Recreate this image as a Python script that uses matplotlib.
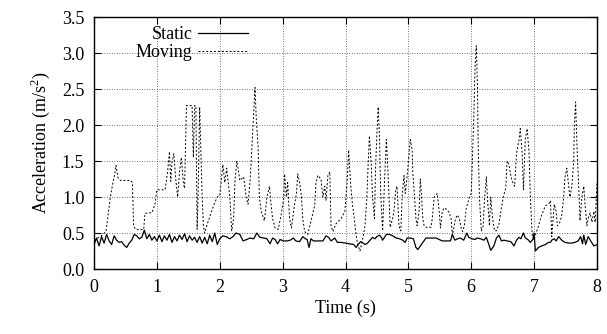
#!/usr/bin/env python3
"""Acceleration vs time for a static and a moving device (gnuplot-style line chart)."""

import matplotlib
matplotlib.use("Agg")
import matplotlib.pyplot as plt

# --------------------------------------------------------------------------
# Data
# --------------------------------------------------------------------------

STATIC_T = [
    0.00, 0.04, 0.08, 0.12, 0.16, 0.20, 0.24, 0.28, 0.32, 0.36, 0.40, 0.44, 0.48,
    0.52, 0.56, 0.60, 0.64, 0.68, 0.72, 0.76, 0.80, 0.84, 0.88, 0.92, 0.96,
    1.00, 1.04, 1.08, 1.12, 1.16, 1.20, 1.24, 1.28, 1.32, 1.36, 1.40, 1.44, 1.48,
    1.52, 1.56, 1.60, 1.64, 1.68, 1.72, 1.76, 1.80, 1.84, 1.88, 1.92, 1.96,
    2.00, 2.05, 2.10, 2.16, 2.21, 2.26, 2.32, 2.37, 2.43, 2.48, 2.54, 2.59, 2.64,
    2.70, 2.75, 2.80, 2.84, 2.88, 2.92, 2.96, 3.01, 3.07, 3.12, 3.17, 3.21, 3.27,
    3.32, 3.36, 3.39, 3.42, 3.45, 3.49, 3.54, 3.59, 3.64, 3.69, 3.73, 3.77, 3.83,
    3.87, 3.93, 4.00, 4.07, 4.13, 4.17, 4.21, 4.24, 4.28, 4.31, 4.35, 4.39, 4.43,
    4.47, 4.50, 4.54, 4.57, 4.59, 4.62, 4.65, 4.70, 4.75, 4.81, 4.86, 4.91, 4.95,
    4.98, 5.03, 5.08, 5.12, 5.15, 5.19, 5.24, 5.28, 5.36, 5.44, 5.49, 5.54, 5.62,
    5.67, 5.70, 5.74, 5.78, 5.83, 5.88, 5.93, 5.96, 6.01, 6.06, 6.09, 6.15, 6.20,
    6.24, 6.28, 6.31, 6.36, 6.40, 6.44, 6.48, 6.52, 6.57, 6.63, 6.68, 6.72, 6.76,
    6.79, 6.83, 6.86, 6.90, 6.94, 6.98, 7.00, 7.02, 7.07, 7.12, 7.18, 7.23, 7.26,
    7.28, 7.32, 7.35, 7.39, 7.44, 7.49, 7.55, 7.60, 7.65, 7.70, 7.74, 7.77, 7.79,
    7.82, 7.86, 7.90, 7.95, 8.00,
]
STATIC_V = [
    0.34, 0.43, 0.32, 0.45, 0.36, 0.48, 0.39, 0.34, 0.46, 0.40, 0.37, 0.38, 0.33,
    0.30, 0.36, 0.40, 0.48, 0.46, 0.42, 0.44, 0.54, 0.42, 0.48, 0.40, 0.45,
    0.39, 0.47, 0.38, 0.46, 0.40, 0.48, 0.37, 0.45, 0.39, 0.47, 0.41, 0.49, 0.38,
    0.46, 0.40, 0.44, 0.37, 0.45, 0.36, 0.44, 0.35, 0.47, 0.38, 0.50, 0.34,
    0.42, 0.46, 0.45, 0.42, 0.45, 0.50, 0.48, 0.39, 0.41, 0.43, 0.42, 0.50, 0.44,
    0.43, 0.42, 0.35, 0.43, 0.41, 0.35, 0.41, 0.39, 0.39, 0.40, 0.43, 0.39, 0.38,
    0.45, 0.42, 0.41, 0.30, 0.42, 0.39, 0.39, 0.39, 0.39, 0.46, 0.44, 0.39, 0.43,
    0.37, 0.37, 0.36, 0.35, 0.34, 0.30, 0.35, 0.38, 0.36, 0.34, 0.36, 0.40, 0.44,
    0.42, 0.45, 0.47, 0.44, 0.40, 0.44, 0.48, 0.48, 0.46, 0.43, 0.42, 0.40, 0.37,
    0.43, 0.43, 0.42, 0.30, 0.27, 0.32, 0.38, 0.43, 0.43, 0.43, 0.41, 0.39, 0.39,
    0.39, 0.48, 0.40, 0.42, 0.43, 0.40, 0.50, 0.44, 0.42, 0.41, 0.43, 0.42, 0.40,
    0.44, 0.34, 0.26, 0.32, 0.43, 0.47, 0.39, 0.40, 0.39, 0.38, 0.32, 0.40, 0.44,
    0.42, 0.50, 0.43, 0.41, 0.37, 0.41, 0.50, 0.25, 0.30, 0.32, 0.34, 0.37, 0.37,
    0.40, 0.42, 0.39, 0.45, 0.40, 0.37, 0.36, 0.36, 0.37, 0.39, 0.45, 0.35, 0.47,
    0.34, 0.45, 0.39, 0.32, 0.34,
]

MOVING_T = [
    0.00, 0.10, 0.19, 0.23, 0.26, 0.30, 0.33, 0.35, 0.38, 0.42, 0.50, 0.58, 0.61,
    0.63, 0.66, 0.72, 0.79, 0.81, 0.86, 0.92, 0.97, 1.00, 1.13, 1.17, 1.20, 1.22,
    1.24, 1.27, 1.30, 1.33, 1.36, 1.39, 1.42, 1.44, 1.47, 1.53, 1.56, 1.58, 1.60,
    1.62, 1.64, 1.66, 1.68, 1.70, 1.72, 1.74, 1.76, 1.80, 1.85, 1.91, 1.96, 2.00,
    2.05, 2.08, 2.11, 2.16, 2.19, 2.22, 2.24, 2.27, 2.30, 2.32, 2.38, 2.42, 2.45,
    2.48, 2.50, 2.53, 2.56, 2.58, 2.61, 2.63, 2.66, 2.71, 2.75, 2.79, 2.81, 2.84,
    2.88, 2.93, 2.98, 3.02, 3.03, 3.06, 3.08, 3.11, 3.14, 3.19, 3.22, 3.24, 3.27,
    3.30, 3.32, 3.35, 3.40, 3.46, 3.51, 3.53, 3.56, 3.61, 3.64, 3.67, 3.69, 3.72,
    3.75, 3.77, 3.80, 3.85, 3.93, 3.99, 4.03, 4.05, 4.08, 4.11, 4.14, 4.16, 4.19,
    4.23, 4.27, 4.31, 4.34, 4.36, 4.38, 4.41, 4.43, 4.46, 4.48, 4.51, 4.52, 4.54,
    4.56, 4.59, 4.62, 4.65, 4.67, 4.69, 4.71, 4.75, 4.77, 4.80, 4.82, 4.85, 4.88,
    4.90, 4.93, 4.95, 4.98, 5.01, 5.03, 5.06, 5.07, 5.09, 5.12, 5.14, 5.17, 5.19,
    5.21, 5.23, 5.25, 5.28, 5.36, 5.38, 5.41, 5.46, 5.49, 5.51, 5.54, 5.57, 5.62,
    5.65, 5.68, 5.70, 5.73, 5.75, 5.78, 5.81, 5.84, 5.86, 5.89, 5.92, 5.94, 5.97,
    6.00, 6.01, 6.04, 6.06, 6.08, 6.10, 6.11, 6.13, 6.16, 6.19, 6.21, 6.24, 6.26,
    6.29, 6.31, 6.34, 6.37, 6.40, 6.44, 6.48, 6.51, 6.55, 6.57, 6.60, 6.63, 6.65,
    6.69, 6.72, 6.76, 6.78, 6.81, 6.83, 6.86, 6.89, 6.92, 6.94, 6.97, 7.00, 7.02,
    7.07, 7.12, 7.18, 7.23, 7.26, 7.28, 7.32, 7.35, 7.37, 7.41, 7.44, 7.47, 7.49,
    7.52, 7.55, 7.57, 7.60, 7.63, 7.64, 7.66, 7.68, 7.71, 7.73, 7.76, 7.79, 7.81,
    7.84, 7.86, 7.89, 7.92, 7.95, 7.97, 8.00,
]
MOVING_V = [
    0.40, 0.45, 0.52, 0.80, 1.00, 1.20, 1.32, 1.44, 1.27, 1.23, 1.23, 1.23, 1.20,
    0.60, 0.55, 0.55, 0.55, 0.77, 0.78, 0.78, 0.90, 1.10, 1.10, 1.35, 1.63, 1.22,
    1.48, 1.60, 1.25, 1.00, 1.35, 1.55, 1.20, 1.12, 2.27, 2.27, 2.27, 1.55, 2.27,
    2.27, 0.55, 1.20, 2.25, 1.60, 1.00, 0.60, 0.50, 0.62, 0.75, 0.90, 1.00, 1.02,
    1.45, 1.20, 1.40, 1.00, 0.53, 0.70, 1.20, 1.50, 1.35, 1.23, 1.28, 1.00, 0.90,
    1.20, 1.50, 2.00, 2.52, 2.10, 1.70, 1.00, 0.80, 0.67, 1.00, 1.15, 0.95, 0.70,
    0.57, 0.55, 0.77, 1.00, 1.32, 1.00, 1.20, 0.70, 0.57, 0.90, 1.05, 1.32, 1.20,
    1.00, 0.70, 0.52, 0.48, 0.70, 0.88, 1.20, 1.30, 1.25, 1.00, 1.15, 0.95, 1.30,
    1.35, 0.60, 0.52, 0.63, 0.70, 0.80, 1.27, 1.65, 1.20, 0.90, 0.70, 0.53, 0.35,
    0.25, 0.40, 0.60, 1.00, 1.45, 1.85, 1.45, 1.00, 0.70, 1.45, 2.10, 2.25, 1.85,
    1.05, 0.53, 1.20, 1.80, 1.45, 1.05, 0.58, 0.70, 0.80, 1.10, 1.15, 0.60, 0.53,
    1.00, 1.30, 1.05, 1.28, 1.60, 1.80, 1.65, 1.35, 1.10, 0.70, 0.60, 0.80, 1.25,
    1.00, 0.70, 0.60, 0.58, 0.58, 0.70, 1.00, 1.05, 0.80, 0.57, 0.80, 0.85, 0.82,
    0.78, 0.70, 0.47, 0.60, 0.70, 0.75, 0.70, 0.57, 0.52, 0.60, 0.85, 0.90, 1.00,
    1.05, 1.30, 2.10, 2.80, 3.10, 2.50, 1.73, 1.00, 0.53, 0.60, 0.95, 1.28, 0.95,
    0.60, 1.00, 0.70, 0.53, 0.53, 0.62, 0.85, 1.00, 1.13, 1.50, 1.45, 1.30, 1.22,
    1.15, 1.60, 1.80, 1.95, 1.60, 1.10, 1.80, 1.95, 1.60, 1.00, 0.47, 0.40, 0.47,
    0.60, 0.75, 0.88, 0.90, 0.95, 0.45, 0.90, 0.80, 0.60, 0.65, 0.75, 1.00, 1.27,
    1.40, 1.15, 1.00, 1.15, 1.50, 2.00, 2.32, 1.75, 1.13, 0.67, 1.00, 1.15, 0.90,
    0.60, 0.70, 0.78, 0.65, 0.80, 0.65, 1.20,
]

X_TICKS = [0, 1, 2, 3, 4, 5, 6, 7, 8]
Y_TICKS = [0.0, 0.5, 1.0, 1.5, 2.0, 2.5, 3.0, 3.5]

# --------------------------------------------------------------------------
# Plot
# --------------------------------------------------------------------------

plt.rcParams["font.family"] = ["Liberation Serif", "DejaVu Serif"]
plt.rcParams["mathtext.fontset"] = "custom"
plt.rcParams["mathtext.rm"] = "Liberation Serif"

FS = 13

fig = plt.figure(figsize=(6.07, 3.34), dpi=100)
ax = fig.add_axes([0.1549, 0.1946, 0.8286, 0.7545])

ax.plot(STATIC_T, STATIC_V, color="black", linewidth=0.9, label="Static", zorder=3)
ax.plot(MOVING_T, MOVING_V, color="black", linewidth=0.7,
        linestyle=(0, (2, 2)), label="Moving", zorder=3)

ax.set_xlim(0, 8)
ax.set_ylim(0, 3.5)
ax.set_xticks(X_TICKS)
ax.set_yticks(Y_TICKS)
ax.set_yticklabels([f"{v:.1f}" for v in Y_TICKS])

ax.grid(True, color="#444444", linestyle=(0, (1, 2)), linewidth=0.6, zorder=1)
ax.tick_params(direction="in", length=5, width=0.8, labelsize=FS,
               top=True, right=True, pad=7)
for sp in ax.spines.values():
    sp.set_linewidth(1.0)

ax.set_xlabel("Time (s)", fontsize=FS, labelpad=3)
ax.set_ylabel("Acceleration (m/s$^2$)", fontsize=FS, labelpad=7)

ax.legend(loc="upper right", bbox_to_anchor=(0.325, 1.0), frameon=False,
          markerfirst=False, fontsize=FS, handlelength=2.8, borderpad=0,
          handletextpad=0.3, labelspacing=0.05)

fig.savefig("out.png", dpi=100)
